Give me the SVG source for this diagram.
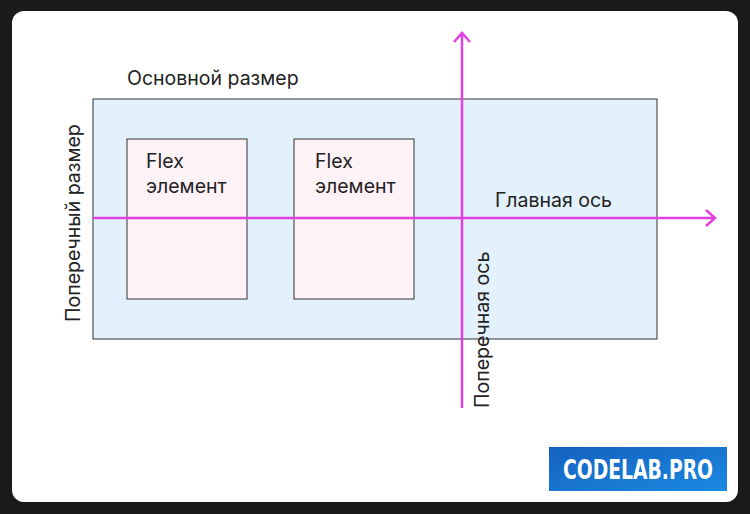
<svg xmlns="http://www.w3.org/2000/svg" width="750" height="514" viewBox="0 0 750 514">
<defs>
<style>
.t{font-family:Inter,"Liberation Sans",sans-serif;font-size:19.5px;fill:#222}
.item{fill:#fdf2f6;stroke:#333;stroke-width:1}
.axis{stroke:#e040e0;stroke-width:2.5;fill:none}
</style>
<linearGradient id="g" x1="0" y1="0" x2="1" y2="1"><stop offset="0" stop-color="#1560c0"/><stop offset="1" stop-color="#1a8ae0"/></linearGradient>
</defs>
<rect width="750" height="514" fill="#1a1a1a"/>
<rect x="12" y="11" width="726" height="491" rx="12" fill="#fff"/>
<g id="container"><rect x="93" y="99" width="564" height="240" fill="#e3f1fc" stroke="#333" stroke-width="1"/></g>
<g id="item1"><rect class="item" x="127" y="139" width="120" height="160"/><text class="t" x="146" y="168">Flex</text><text class="t" x="146" y="193">элемент</text></g>
<g id="item2"><rect class="item" x="294" y="139" width="120" height="160"/><text class="t" x="315" y="168">Flex</text><text class="t" x="315" y="193">элемент</text></g>
<g id="connectors">
<path class="axis" d="M93 218H714M706 210L715 218L706 226"/>
<path class="axis" d="M462 408V33M454 42L462 33L470 42"/>
</g>
<g id="labels">
<text class="t" x="127" y="85">Основной размер</text>
<text class="t" x="495" y="207">Главная ось</text>
<text class="t" transform="translate(80,322) rotate(-90)">Поперечный размер</text>
<text class="t" transform="translate(489,408) rotate(-90)">Поперечная ось</text>
</g>
<g id="logo"><rect x="549" y="447" width="178" height="44" fill="url(#g)"/><text x="563" y="479" textLength="150" lengthAdjust="spacingAndGlyphs" font-family="'Liberation Sans Narrow','DejaVu Sans Condensed',sans-serif" font-weight="bold" font-size="27" fill="#fff">CODELAB.PRO</text></g>
</svg>
